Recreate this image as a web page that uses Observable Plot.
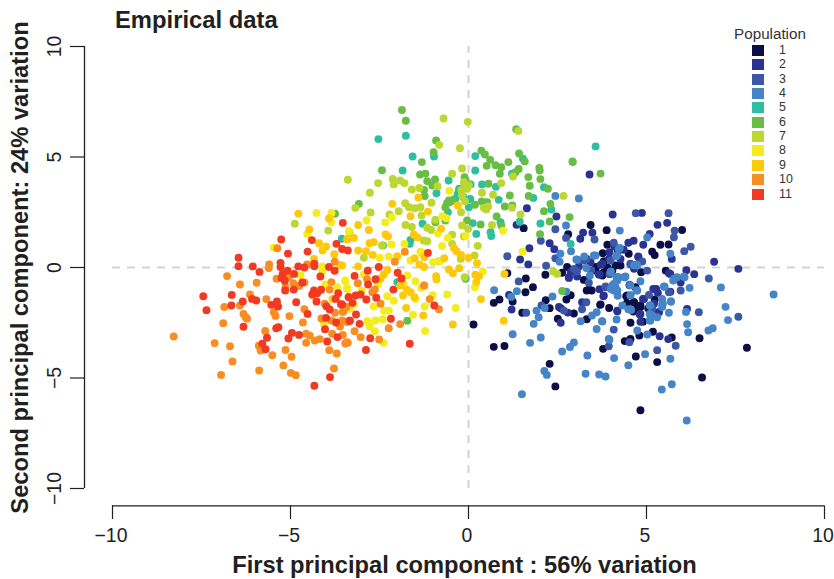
<!DOCTYPE html>
<html><head><meta charset="utf-8">
<script src="https://cdn.jsdelivr.net/npm/d3@7"></script>
<script src="https://cdn.jsdelivr.net/npm/@observablehq/plot@0.6"></script>
<style>
html,body{margin:0;padding:0;background:#fff;font-family:"Liberation Sans",Arial,sans-serif;color:#231f20}
#wrap{position:relative;width:834px;height:579px;overflow:hidden}
#title{position:absolute;left:115px;top:7px;font-size:23.8px;font-weight:bold;line-height:26px}
#legend{position:absolute;left:730px;top:27px;width:90px;color:#333}
#legend .h{position:absolute;left:0;top:0;width:80px;text-align:center;font-size:15.2px;line-height:14px}
#legend .r{position:absolute;left:22px;height:14px;display:flex;align-items:center;font-size:12.4px;line-height:13px}
#legend .s{width:12px;height:11px;margin-right:15px}
</style></head><body>
<div id="wrap"><div id="title">Empirical data</div><div id="legend"></div></div>
<script>
const populations = ["1","2","3","4","5","6","7","8","9","10","11"];
const colours = ["#0b0f45","#2b3391","#3b57a6","#4584c6","#2ebfa0","#68bd45","#bcd72f","#f5ec1f","#ffc90b","#f88d22","#f23a22"];
const xTicks = [-10,-5,0,5,10];
const yTicks = [-10,-5,0,5,10];

const pop1 = [[6.56,-4.98],[4.83,-6.46],[7.82,-3.63],[6.49,-3.2],[5.3,-4.28],[4.7,-4.03],[3.78,-3.68],[2.44,-5.38],[2.28,-4.36],[0.71,-3.59],[4.39,-3.33],[4.55,-3.23],[4.8,-3.08],[5.18,-2.91],[5.71,-3.17],[4.55,-2.5],[3.32,-2.34],[2.96,-2.08],[2.51,-2.32],[1.51,-2.05],[2.28,-1.84],[2.17,-1.48],[3.7,-1.69],[3.95,-1.83],[4.63,-1.99],[4.83,-1.79],[4.65,-1.57],[4.43,-1.3],[5.23,-1.45],[2.87,-1.25],[3.32,-1.04],[3.46,-1.04],[1.6,-1.12],[1.81,-0.89],[1.61,-0.5],[2.16,-0.33],[1.24,-1.54],[0.71,-1.6],[0.87,-1.45],[1.09,-0.26],[1.55,1.78],[2.8,1.51],[3.43,1.92],[3.88,1.69],[6.0,1.7],[5.62,1.04],[5.39,1.03],[5.16,0.71],[5.23,0.56],[4.5,0.62],[3.9,1.03],[3.77,0.65],[3.8,0.29],[4.27,0.09],[2.77,0.02],[2.63,-0.24],[3.24,-0.56],[3.8,-0.21],[3.57,-0.14],[4.04,-0.14],[4.85,-0.21],[5.54,-0.14],[4.69,-0.89],[0.14,-2.58],[1.01,-3.55],[4.45,-1.62],[4.2,0.75],[3.58,0.02],[3.38,-1.0],[2.75,-1.45],[5.05,-1.85],[4.9,-2.45],[4.64,-1.57],[4.74,-1.79],[4.46,-1.27],[4.83,-1.72],[3.9,0.0],[4.13,0.09],[3.76,-0.36],[3.71,-1.67]];
const pop2 = [[4.05,2.4],[4.87,2.47],[5.31,1.93],[5.58,2.02],[5.09,1.52],[4.64,1.21],[4.49,1.12],[4.91,1.03],[3.96,0.69],[4.36,0.8],[3.48,1.57],[3.22,1.58],[3.14,1.3],[2.47,2.31],[1.64,2.68],[1.35,1.93],[1.71,0.87],[1.45,0.36],[1.68,0.14],[2.28,1.1],[2.41,0.83],[5.71,0.39],[4.77,0.5],[4.27,0.39],[3.71,0.12],[6.9,0.26],[7.58,-0.06],[6.34,-0.3],[6.12,-0.12],[5.63,-0.26],[5.96,-0.68],[2.87,-0.2],[2.82,-0.47],[3.05,-0.41],[3.69,-0.32],[5.27,-0.97],[5.19,-0.97],[5.67,-1.1],[3.68,-0.98],[3.79,-1.3],[4.9,-1.42],[3.19,-1.57],[2.54,-1.79],[1.21,-1.9],[1.14,-1.24],[2.59,-2.5],[2.79,-2.04],[4.18,-1.98],[4.81,-2.13],[4.83,-2.46],[5.34,-2.02],[5.21,-1.64],[6.14,-1.87],[5.37,-3.11],[5.61,-3.24],[4.65,-0.06],[3.4,4.21],[5.32,-1.15],[3.95,0.4],[4.1,0.95],[2.6,-1.85],[3.1,0.05],[4.18,-1.95],[4.83,-2.1],[4.93,-1.42],[5.25,-0.97],[5.35,-2.02],[3.8,-1.27],[4.18,-0.44],[4.77,0.47],[3.43,0.24],[3.76,0.17],[2.82,-0.44],[3.66,-0.32],[5.67,-0.29]];
const pop3 = [[1.09,0.51],[1.41,-0.63],[2.03,1.21],[2.44,1.73],[2.74,1.34],[2.44,0.42],[2.18,0.08],[3.05,-0.17],[3.32,0.39],[3.54,1.27],[4.08,1.12],[3.99,0.32],[5.77,1.37],[6.06,0.74],[6.24,0.94],[5.79,1.67],[4.55,0.14],[5.02,-0.14],[3.38,-0.69],[3.85,-0.89],[4.52,-0.8],[5.07,-1.24],[5.96,-1.04],[6.75,-0.5],[6.47,-2.02],[7.58,-2.23],[5.82,-3.54],[5.3,-3.74],[4.52,-3.38],[3.94,-3.56],[4.08,-2.81],[3.19,-1.89],[3.31,-1.57],[2.68,-1.95],[1.62,-2.05],[5.62,2.46],[4.7,2.46],[4.88,0.27],[3.1,0.32],[3.45,-0.12],[2.05,-1.72],[3.85,-0.86],[4.53,-0.78],[5.63,-1.12],[5.16,-1.87],[2.96,-0.06],[3.24,0.32],[4.55,0.17],[3.96,-0.3]];
const pop4 = [[8.57,-1.22],[3.1,3.12],[2.44,3.24],[2.74,1.9],[2.88,0.74],[2.58,0.62],[2.56,0.26],[3.03,0.36],[3.57,0.54],[4.25,1.67],[4.25,0.89],[4.15,0.51],[5.02,1.36],[5.67,0.62],[4.71,0.14],[4.0,-0.18],[3.41,-0.36],[4.16,-0.47],[4.38,-0.44],[4.83,-0.62],[4.13,-0.89],[4.74,-1.04],[5.51,-0.87],[6.07,-0.44],[5.77,-0.51],[6.21,-0.92],[7.09,-0.9],[4.19,-1.28],[4.55,-1.25],[5.44,-1.42],[5.69,-1.54],[5.63,-2.05],[5.44,-1.79],[5.09,-1.72],[6.11,-2.01],[7.22,-1.78],[7.29,-2.38],[6.14,-2.56],[6.17,-2.93],[6.74,-2.85],[6.86,-2.75],[5.16,-2.17],[5.09,-2.4],[4.32,-1.72],[4.49,-1.89],[3.6,-2.02],[3.47,-2.17],[3.76,-2.44],[4.16,-2.35],[3.15,-2.43],[3.6,-2.78],[4.74,-2.85],[5.02,-3.03],[3.96,-3.27],[2.96,-3.39],[2.85,-3.6],[2.63,-3.8],[3.34,-3.98],[4.09,-4.1],[4.96,-3.92],[4.49,-4.42],[5.67,-4.13],[3.29,-4.81],[3.67,-4.84],[3.85,-4.93],[2.13,-4.68],[2.2,-4.86],[1.5,-5.73],[5.71,-5.28],[5.43,-5.52],[6.13,-6.92],[1.73,-3.41],[2.03,-3.17],[1.24,-3.02],[1.83,-2.55],[1.97,-2.25],[1.91,-1.95],[2.14,-1.83],[2.36,-1.31],[2.75,-1.09],[0.72,-1.03],[1.2,-1.33],[1.36,-1.07],[3.31,-0.02],[4.04,-0.81],[4.08,-1.04],[4.22,-0.44],[5.44,-1.64],[5.3,-2.25],[3.25,0.5],[4.65,0.1],[4.08,-0.74],[4.18,-0.59],[4.0,-0.97],[4.18,-1.04],[4.39,-0.44],[4.72,-1.04],[4.55,-1.27],[5.49,-0.86],[5.46,-1.64],[5.68,-1.54],[5.11,-1.72],[5.11,-2.4],[5.09,-2.1],[4.57,-1.92],[5.86,-0.44],[6.05,-0.41],[5.75,-0.59],[3.75,-2.43],[3.94,-3.23],[4.41,-0.41],[4.55,-0.81],[3.99,-0.21],[4.18,0.54],[4.22,0.84],[3.05,0.35],[3.52,0.54],[4.74,0.09]];
const pop5 = [[-2.53,5.81],[-1.76,5.96],[-1.57,5.02],[-0.97,5.02],[-1.85,4.39],[0.19,5.04],[0.19,4.39],[1.53,4.92],[-0.56,3.94],[-0.9,3.36],[-0.26,3.56],[-0.3,3.33],[0.06,3.76],[0.38,3.76],[0.77,3.65],[1.22,4.24],[2.12,3.63],[1.82,3.15],[0.85,3.06],[0.01,2.73],[-0.58,2.5],[-1.29,1.98],[-1.63,1.25],[-1.65,1.07],[0.22,1.52],[0.12,2.01],[0.62,1.6],[0.64,1.42],[0.9,2.05],[1.44,2.07],[2.02,1.99],[2.33,2.62],[2.87,1.06],[-2.4,1.0],[-3.56,1.3],[-0.08,-0.51],[-2.0,-0.66],[3.57,5.48],[-0.15,3.2],[-0.27,3.48],[-0.37,3.11],[0.05,3.1]];
const pop6 = [[-3.75,2.43],[-1.87,7.13],[-1.76,6.64],[-0.91,5.75],[-0.98,5.22],[-1.31,4.77],[-2.43,4.4],[-1.36,4.21],[-1.21,4.25],[-1.16,3.91],[-0.94,3.98],[-1.02,3.71],[-1.25,3.51],[-1.23,3.23],[-0.11,4.09],[-0.08,3.94],[0.36,5.29],[0.46,5.11],[0.61,4.87],[0.51,4.6],[0.76,4.63],[0.92,4.54],[0.88,4.24],[1.12,4.77],[1.42,5.16],[1.58,4.8],[1.34,6.26],[2.93,4.77],[1.99,4.51],[2.0,4.39],[2.02,4.0],[1.68,4.09],[1.41,4.46],[1.32,4.31],[1.72,3.7],[2.23,3.56],[1.16,3.26],[1.69,3.24],[0.56,3.79],[0.37,2.99],[0.52,2.96],[0.18,2.84],[1.02,2.76],[1.23,2.81],[2.3,2.88],[2.12,2.55],[0.79,2.31],[2.28,2.08],[2.84,2.28],[2.01,1.51],[0.34,1.95],[-0.04,2.13],[0.92,1.9],[-0.55,3.03],[-0.93,2.05],[-0.65,2.13],[-3.08,2.88],[-1.72,-2.41],[2.63,-1.06],[3.71,4.25],[2.92,4.8],[-0.45,3.05],[-0.6,2.92],[-0.51,2.96],[-0.65,2.73]];
const pop7 = [[-3.39,3.97],[-4.88,1.98],[-3.94,1.67],[-2.54,3.82],[-2.77,3.38],[-3.18,2.7],[-2.75,2.49],[-2.13,4.01],[-2.1,3.76],[-1.92,3.94],[-1.8,3.82],[-1.59,3.53],[-1.38,3.6],[-0.7,6.74],[-0.02,6.59],[-0.82,5.55],[-0.24,5.4],[1.4,6.18],[-0.46,4.24],[-0.18,4.48],[0.92,3.82],[1.25,4.12],[-0.87,3.68],[-0.11,3.68],[-0.04,3.56],[-0.18,3.26],[0.38,3.38],[0.69,3.29],[0.43,2.7],[0.55,2.76],[1.22,2.7],[1.46,2.4],[2.67,3.24],[0.66,1.92],[-1.04,2.93],[-1.78,2.91],[-1.67,2.73],[-1.51,2.68],[-1.35,2.73],[-1.96,2.55],[-2.22,2.4],[-1.32,2.35],[-0.93,2.16],[-0.21,2.5],[-1.77,1.92],[-1.59,1.83],[-1.16,1.8],[-1.05,1.7],[-1.26,1.22],[-1.16,1.19],[-0.46,1.48],[-0.46,1.07],[-0.13,1.4],[-0.18,1.9],[-0.01,1.75],[0.26,0.98],[0.17,0.54],[-0.22,0.39],[-1.3,0.66],[-0.83,0.29],[-2.94,0.44],[-0.11,-0.44],[2.38,-0.18],[2.49,-0.29],[-3.34,1.6],[-2.43,1.0],[-0.1,3.0],[0.5,2.62],[-0.13,3.86],[0.01,3.71],[-0.2,3.5]];
const pop8 = [[-4.27,2.47],[-3.85,2.47],[-3.85,2.05],[-4.53,1.52],[-5.47,0.9],[-3.36,1.64],[-4.72,-0.35],[-4.11,0.05],[-4.11,-0.18],[-4.02,-0.77],[-3.69,-0.89],[-3.46,-0.62],[-3.41,-0.97],[-4.37,-1.27],[-4.06,-2.52],[-2.86,2.14],[-2.34,2.04],[-2.15,2.26],[-0.54,3.47],[-0.73,2.32],[-0.62,2.23],[-0.08,1.42],[-0.58,1.34],[-0.74,0.97],[-0.86,1.55],[-1.8,1.07],[-2.16,1.04],[-2.49,0.44],[-2.24,0.5],[-1.35,0.72],[-0.99,0.24],[-0.79,0.29],[-1.72,-0.36],[-2.94,-0.32],[-3.46,-0.59],[-3.41,-0.92],[-1.49,-0.62],[-1.82,-0.74],[-1.33,-0.92],[-1.01,-1.25],[-2.28,-1.3],[-0.6,-1.22],[-0.36,-1.83],[-1.23,-1.76],[-1.56,-2.14],[-2.41,-2.34],[-2.62,-2.4],[-2.84,-2.43],[-2.77,-2.67],[-2.63,-2.88],[-2.38,-3.41],[-1.22,-2.87],[-2.37,-1.96],[-2.24,-1.95],[-3.22,-1.67],[0.4,-0.18],[0.18,-0.89],[0.97,1.66],[1.52,0.71],[-1.49,-1.42],[-2.66,-1.76],[-1.63,0.32],[-3.34,-1.87],[-2.55,-0.75],[-3.0,-1.05],[-2.1,-1.5]];
const pop9 = [[-4.78,2.44],[-4.47,1.72],[-4.2,1.1],[-4.0,0.95],[-4.1,0.77],[-3.77,0.6],[-3.92,2.22],[-4.34,0.39],[-3.61,0.11],[-3.41,1.27],[-3.82,-1.42],[-2.14,2.88],[-1.41,3.17],[-1.14,2.53],[-0.3,2.81],[-1.63,2.32],[-3.1,1.92],[-2.8,1.7],[-3.22,1.34],[-3.39,1.3],[-2.33,1.49],[-2.26,1.4],[-2.78,1.1],[-2.66,1.15],[-3.1,0.77],[-2.88,0.74],[-2.69,0.57],[-2.0,0.51],[-1.54,1.49],[-1.44,1.37],[-1.51,0.42],[-0.77,1.76],[-0.34,0.74],[-0.21,0.57],[0.0,0.44],[-0.68,0.42],[-1.24,0.47],[-1.38,0.14],[-1.25,0.02],[-0.55,-0.09],[-0.44,-0.26],[-0.26,-0.03],[-0.91,-0.39],[-0.9,-0.54],[0.24,0.2],[0.19,-0.33],[0.3,-0.39],[0.22,-0.66],[1.01,-0.29],[0.35,-1.43],[0.99,-2.41],[-0.44,-2.58],[-1.27,-2.17],[-1.75,-1.83],[-3.1,0.05],[-2.38,-0.32],[-2.47,-0.51],[-2.28,-0.11],[-1.91,-0.81],[-1.73,-1.0],[-1.63,-1.12],[-1.52,-1.34],[-1.84,-1.27],[-1.24,-0.81],[-3.55,0.09],[-0.41,0.89]];
const pop10 = [[-8.28,-3.12],[-7.13,-3.42],[-6.7,-3.56],[-6.63,-4.25],[-6.95,-4.86],[-6.89,-2.52],[-6.86,-1.79],[-6.42,-1.72],[-6.78,-0.39],[-6.42,-0.77],[-5.95,-0.69],[-6.14,-1.22],[-5.68,-1.43],[-6.32,-2.1],[-6.22,-2.32],[-6.26,-2.25],[-5.6,0.14],[-5.61,-0.02],[-5.37,0.87],[-5.39,-0.51],[-5.47,-2.02],[-5.42,-2.19],[-5.03,-2.2],[-4.65,-2.49],[-4.61,-1.89],[-5.71,-2.87],[-5.89,-3.54],[-5.84,-3.76],[-5.51,-3.97],[-5.14,-3.73],[-4.97,-4.04],[-5.2,-4.43],[-5.88,-4.66],[-4.99,-4.77],[-4.85,-4.87],[-4.56,-3.41],[-4.56,-3.0],[-4.46,-3.09],[-4.32,-3.3],[-4.18,-3.24],[-3.91,-3.74],[-3.7,-3.89],[-3.78,-4.57],[-3.83,-3.0],[-3.53,-3.05],[-3.46,-3.44],[-3.39,-3.41],[-3.61,-2.67],[-3.53,-2.43],[-3.53,-2.01],[-3.75,-2.05],[-3.43,-1.79],[-4.13,-2.31],[-3.85,-2.4],[-5.14,-0.89],[-5.05,-0.44],[-4.92,-0.71],[-4.76,-0.84],[-4.61,-0.68],[-4.53,0.14],[-3.85,-0.66],[-3.9,-1.0],[-4.04,-1.64],[-3.76,0.26],[-3.11,-0.71],[-2.85,-0.53],[-2.63,-1.0],[-2.7,-1.12],[-2.47,-1.64],[-3.47,-1.79],[-3.52,-1.98],[-3.55,-2.4],[-3.41,-2.47],[-3.2,-2.88],[-3.03,-3.15],[-3.41,-3.38],[-2.51,-3.26],[-2.24,-2.75],[-1.92,-2.56],[-0.83,-1.89],[-1.09,-1.43],[-2.07,0.26],[-1.79,0.71],[-1.25,-0.81]];
const pop11 = [[-7.45,-1.3],[-7.36,-1.93],[-6.65,-1.24],[-6.66,-1.72],[-6.34,-1.54],[-6.32,-2.68],[-6.46,0.44],[-6.46,0.06],[-6.06,0.05],[-5.87,-0.2],[-6.08,-1.42],[-5.96,-1.49],[-5.54,-1.69],[-5.38,-1.54],[-5.35,-1.76],[-5.26,1.27],[-5.07,0.63],[-5.28,0.21],[-5.28,0.02],[-5.08,-0.14],[-5.22,-0.29],[-5.25,-0.47],[-5.16,-0.6],[-4.9,-0.29],[-5.15,-1.04],[-4.91,-1.0],[-4.67,-0.68],[-4.84,-1.57],[-4.78,0.05],[-4.61,0.0],[-4.33,0.17],[-4.33,0.06],[-4.4,1.24],[-4.52,0.72],[-4.16,-0.41],[-3.92,0.02],[-3.76,-0.15],[-3.71,1.07],[-3.53,2.02],[-3.55,0.84],[-3.39,0.77],[-4.34,-1.04],[-4.39,-1.22],[-4.25,-1.16],[-4.14,-1.01],[-4.27,-1.54],[-3.99,-1.75],[-3.9,-1.9],[-3.66,-1.16],[-3.73,-1.42],[-3.58,-1.66],[-3.37,-1.34],[-4.52,-2.1],[-4.0,-2.28],[-3.72,-2.49],[-3.34,-2.41],[-4.03,-2.79],[-3.68,-3.15],[-3.97,-3.35],[-4.96,-2.96],[-5.06,-3.21],[-4.76,-3.05],[-5.66,-3.18],[-5.79,-3.45],[-5.7,-3.7],[-5.4,-2.75],[-5.34,-2.7],[-3.89,-4.96],[-4.33,-5.35],[-2.83,-0.15],[-2.52,0.02],[-3.2,-0.38],[-2.61,-0.53],[-1.99,-0.24],[-1.88,-0.5],[-2.82,-0.77],[-2.11,-1.0],[-3.03,-1.22],[-3.17,-1.27],[-3.36,-1.34],[-2.87,-1.45],[-2.59,-1.37],[-3.26,-1.6],[-3.55,-1.67],[-3.16,-2.13],[-3.33,-2.41],[-3.06,-2.55],[-2.18,-2.32],[-2.76,-3.2],[-1.65,-3.45],[-2.88,-3.73],[-0.96,-1.72],[-1.14,0.66]];

const series = [pop1,pop2,pop3,pop4,pop5,pop6,pop7,pop8,pop9,pop10,pop11];
const points = series.flatMap((s,i) => s.map(([pc1,pc2]) => ({pc1,pc2,population:populations[i]})));

const xLabel = "First principal component : 56% variation";
const yLabel = "Second principal component: 24% variation";
const ink = "#231f20";
const tickFormat = d => String(d).replace("-","\u2212");

const chart = Plot.plot({
  width: 834, height: 579,
  marginLeft: 112, marginRight: 10, marginTop: 46, marginBottom: 91,
  style: {fontFamily: '"Liberation Sans",Arial,sans-serif', background: "#fff", overflow: "visible"},
  x: {type:"linear", domain: [-10,10]},
  y: {type:"linear", domain: [-10,10]},
  color: {type: "ordinal", domain: populations, range: colours},
  marks: [
    Plot.ruleY([0], {x1:-10, x2:10, stroke:"#d2d3d5", strokeWidth:2, strokeDasharray:"8,7"}),
    Plot.ruleX([0], {y1:-10, y2:10, stroke:"#d2d3d5", strokeWidth:2, strokeDasharray:"8,7"}),
    Plot.dot(points, {x:"pc1", y:"pc2", fill:"population", r:3.95, stroke:"none"}),
    Plot.ruleY([-10], {x1:-10, x2:10, stroke:ink, strokeWidth:1.3, dy:17.4}),
    Plot.ruleX(xTicks, {y1:-10, y2:-10, insetTop:17.4, insetBottom:-31, stroke:ink, strokeWidth:1.2}),
    Plot.axisX(xTicks, {tickSize:0, tickPadding:40, fontSize:19.4, dx:-1.5, tickFormat, label:null, fill:ink}),
    Plot.ruleX([-10], {y1:-10, y2:10, stroke:ink, strokeWidth:1.3, dx:-28}),
    Plot.ruleY(yTicks, {x1:-10, x2:-10, insetLeft:-42, insetRight:28, stroke:ink, strokeWidth:1.2}),
    Plot.axisY(yTicks, {tickSize:0, tickPadding:52, tickRotate:-90, textAnchor:"middle", fontSize:19.4, tickFormat, fill:ink, label:null}),
    Plot.text([xLabel], {frameAnchor:"bottom", dx:-4, dy:84, fontSize:23.7, fontWeight:"bold", fill:ink}),
    Plot.text([yLabel], {frameAnchor:"left", dx:-92, rotate:-90, textAnchor:"middle", fontSize:23.7, fontWeight:"bold", fill:ink})
  ]
});
const wrap = document.getElementById("wrap");
wrap.insertBefore(chart, wrap.firstChild);

const legend = document.getElementById("legend");
const h = document.createElement("div"); h.className = "h"; h.textContent = "Population"; legend.appendChild(h);
populations.forEach((p,i) => {
  const r = document.createElement("div"); r.className = "r"; r.style.top = (16.5 + i*14.35) + "px";
  const s = document.createElement("div"); s.className = "s"; s.style.background = colours[i];
  const t = document.createElement("span"); t.textContent = p;
  r.append(s,t); legend.appendChild(r);
});
</script>
</body></html>
